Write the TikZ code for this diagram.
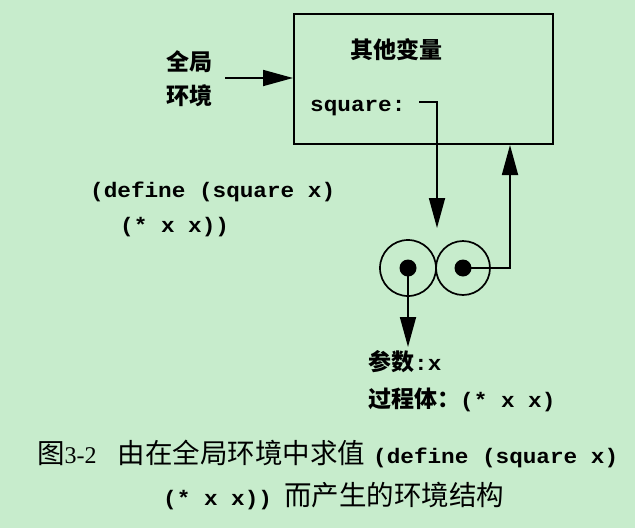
\documentclass[tikz,border=0pt]{standalone}
\usepackage{fontspec}
\setmainfont{Liberation Serif}
\newfontfamily\cjk{Noto Sans CJK SC}
\newfontfamily\code[FakeStretch=1.08]{Liberation Mono}
\usetikzlibrary{arrows.meta}
\definecolor{bg}{HTML}{C7ECCC}
\newcommand\codefont{\code\bfseries\fontsize{21}{21}\selectfont}
\begin{document}
\begin{tikzpicture}[x=1pt,y=-1pt,
  lbl/.style={inner sep=0, font=\cjk\bfseries\fontsize{23}{34}\selectfont},
  codetxt/.style={inner sep=0, anchor=base west, font=\codefont},
  captxt/.style={inner sep=0, anchor=base west, font=\fontsize{27.5}{27.5}\selectfont},
  wire/.style={line width=1.8pt},
  tip/.style={-{Triangle[length=30pt,width=16pt]}},
  ring/.style={circle, draw, line width=1.7pt, inner sep=0},
  dot/.style={circle, fill, inner sep=0, minimum size=17pt}]
\useasboundingbox (0,0) rectangle (635,528);
\fill[bg] (0,0) rectangle (635,528);

% environment box
\node[draw, line width=2pt, minimum width=259pt, minimum height=130pt, inner sep=0, anchor=north west] (env) at (293,13) {};
\node[lbl] (others) at (396,50) {其他变量};
\node[codetxt] (sq) at (310,111) {square:};

% global env label
\node[lbl, align=center] (genv) at (189,79) {全局\\环境};
\coordinate (gst) at (225,78);
\draw[wire,tip] (gst) -- (gst -| env.west);

% define text
\node[codetxt] (def1) at (90,197) {(define (square x)};
\node[codetxt] (def2) at (120,232) {(* x x))};

% procedure object
\node[ring, minimum size=56pt] (lc) at (408,268) {};
\node[ring, minimum size=54pt] (rc) at (463,268) {};
\node[dot] (ld) at (408,268) {};
\node[dot] (rd) at (463,268) {};

\coordinate (hook) at (419,102);
\coordinate (pairtop) at (437,228);
\draw[wire,tip] (hook) -| (pairtop);

\coordinate (upx) at (510,0);
\draw[wire,tip] (rd.center) -| (upx |- env.south);

\coordinate (ptip) at (408,347);
\draw[wire,tip] (ld.center) -- (ptip);

% parameters and body
\node[inner sep=0, anchor=base west] (params) at (368,370) {{\cjk\bfseries\fontsize{23}{23}\selectfont 参数}{\codefont :x}};
\node[inner sep=0, anchor=base west] (body) at (368,407) {{\cjk\bfseries\fontsize{23}{23}\selectfont 过程体：}{\codefont (* x x)}};

% caption
\node[captxt] (cap1) at (37,463) {{\cjk 图}{\fontsize{24}{24}\selectfont 3-2}\hspace{21pt}{\cjk 由在全局环境中求值}\hspace{8pt}{\codefont (define (square x)}};
\node[captxt] (cap2) at (163,505) {{\codefont (* x x))}\hspace{12pt}{\cjk 而产生的环境结构}};
\end{tikzpicture}
\end{document}
